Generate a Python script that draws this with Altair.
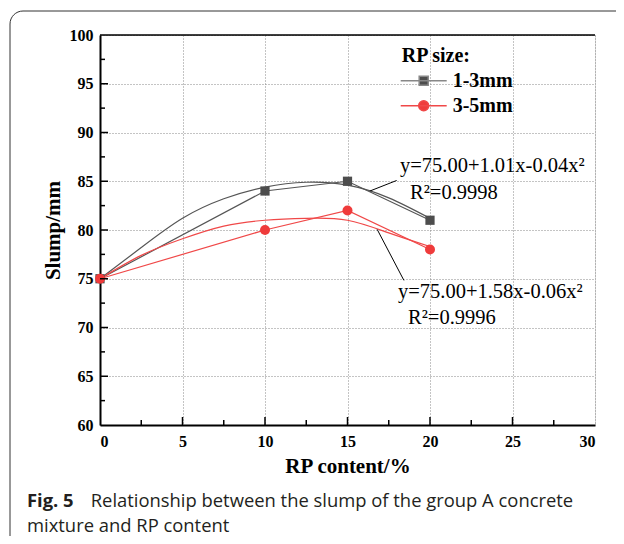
import altair as alt
import pandas as pd

# ---------------- data ----------------
rp_content = [0, 10, 15, 20]
slump_1_3 = [75, 84, 85, 81]
slump_3_5 = [75, 80, 82, 78]
series_names = ["1-3mm", "3-5mm"]

fit_x = [0, 2.5, 5, 7.5, 10, 12.5, 15, 17.5, 20]
fit_1_3 = [75, 78.2, 81.2, 83.2, 84.4, 84.9, 84.6, 83.3, 81.2]
fit_3_5 = [75, 77.4, 79.1, 80.4, 81.0, 81.2, 81.0, 79.7, 78.3]

eq_1_3 = "y=75.00+1.01x-0.04x²"
r2_1_3 = "R²=0.9998"
eq_3_5 = "y=75.00+1.58x-0.06x²"
r2_3_5 = "R²=0.9996"

x_ticks = [0, 5, 10, 15, 20, 25, 30]
y_ticks = [60, 65, 70, 75, 80, 85, 90, 95, 100]
x_minor = [2.5, 7.5, 12.5, 17.5, 22.5, 27.5]
y_minor = [62.5, 67.5, 72.5, 77.5, 82.5, 87.5, 92.5, 97.5]

caption_bold = "Fig. 5"
caption_1 = "Relationship between the slump of the group A concrete"
caption_2 = "mixture and RP content"

# ---------------- tables ----------------
pts = pd.DataFrame({
    "x": rp_content * 2,
    "y": slump_1_3 + slump_3_5,
    "series": [series_names[0]] * 4 + [series_names[1]] * 4,
})
fit = pd.DataFrame({
    "x": fit_x * 2,
    "y": fit_1_3 + fit_3_5,
    "series": [series_names[0]] * len(fit_x) + [series_names[1]] * len(fit_x),
})

W, H = 495, 390
SERIF = "Liberation Serif"
SANS = "Open Sans"
COLORS = ["#4d4d4d", "#ef3b3b"]
LINE_COLORS = ["#555555", "#f04848"]
LEG_LINE_COLORS = ["#888888", "#f04848"]
LEG_PATHS = [
    "M-4.6,0H4.6M-0.9,-0.9H0.9V0.9H-0.9Z",
    "M-4.6,0H4.6M-1,0A1,1 0 1,0 1,0A1,1 0 1,0 -1,0Z",
]

xs = alt.Scale(domain=[0, 30], nice=False, zero=False)
ys = alt.Scale(domain=[60, 100], nice=False, zero=False)

X = alt.X("x:Q", scale=xs, axis=alt.Axis(
    values=x_ticks, title="RP content/%", grid=True, gridDash=[1, 2], gridColor="#888",
    ticks=False, domainColor="black", domainWidth=2, labelFont=SERIF, labelFontSize=16,
    labelFontWeight="bold", labelColor="black", labelPadding=8, titleFont=SERIF,
    titleFontSize=21, titleFontWeight="bold", titleColor="black", titlePadding=6))
Y = alt.Y("y:Q", scale=ys, axis=alt.Axis(
    values=y_ticks, title="Slump/mm", grid=True, gridDash=[1, 2], gridColor="#888",
    ticks=False, domainColor="black", domainWidth=2, labelFont=SERIF, labelFontSize=16,
    labelFontWeight="bold", labelColor="black", labelPadding=7, titleFont=SERIF,
    titleFontSize=21, titleFontWeight="bold", titleColor="black", titlePadding=6))

one = pd.DataFrame({"a": [0]})

border = alt.Chart(one).mark_rect(
    fillOpacity=0, stroke="#333", strokeWidth=1, cornerRadius=13, clip=False
).encode(x=alt.value(-90), x2=alt.value(720), y=alt.value(-24), y2=alt.value(720))

top_frame = alt.Chart(one).mark_rule(color="black", strokeWidth=1.5).encode(
    x=alt.value(0), x2=alt.value(W), y=alt.value(0))

def xtick(vals, length):
    return alt.Chart(pd.DataFrame({"v": vals})).mark_rule(color="black", strokeWidth=1.5).encode(
        x=alt.X("v:Q", scale=xs), y=alt.value(H), y2=alt.value(H - length))

def ytick(vals, length):
    return alt.Chart(pd.DataFrame({"v": vals})).mark_rule(color="black", strokeWidth=1.5).encode(
        y=alt.Y("v:Q", scale=ys), x=alt.value(0), x2=alt.value(length))

ticks = [xtick(x_ticks[1:-1], 8), xtick(x_minor, 5), ytick(y_ticks[1:-1], 8), ytick(y_minor, 5)]

series_layers = []
for i, name in enumerate(series_names):
    f = alt.datum.series == name
    series_layers.append(alt.Chart(fit).transform_filter(f).mark_line(
        strokeWidth=1.2, interpolate="natural", color=LINE_COLORS[i]).encode(x=X, y=Y))
    series_layers.append(alt.Chart(pts).transform_filter(f).mark_line(
        strokeWidth=1.2, color=LINE_COLORS[i]).encode(x=X, y=Y))
series_layers.append(alt.Chart(pts).transform_filter(alt.datum.series == series_names[0]).mark_square(
    size=85, opacity=1, color=COLORS[0]).encode(x=X, y=Y))
series_layers.append(alt.Chart(pts).transform_filter(alt.datum.series == series_names[1]).mark_circle(
    size=100, opacity=1, color=COLORS[1]).encode(x=X, y=Y))

legend = alt.Legend(
    title="RP size:", orient="none", legendX=301.7, legendY=10.7, padding=0,
    titleFont=SERIF, titleFontSize=20, titleFontWeight="bold", titleColor="black", titlePadding=5,
    labelFont=SERIF, labelFontSize=20, labelFontWeight="bold", labelColor="black",
    labelOffset=19, symbolOffset=12, rowPadding=5, symbolSize=100, symbolStrokeWidth=1.5,
    symbolOpacity=1,
)

# invisible layer whose only job is to carry the legend (line + marker symbols);
# fill, stroke and shape share one domain so Vega-Lite merges them into one legend
legend_layer = alt.Chart(pts).mark_point(filled=True, opacity=0).encode(
    x=X, y=Y,
    fill=alt.Fill("series:N", scale=alt.Scale(domain=series_names, range=COLORS), legend=legend),
    stroke=alt.Stroke("series:N", scale=alt.Scale(domain=series_names, range=LEG_LINE_COLORS), legend=legend),
    shape=alt.Shape("series:N", scale=alt.Scale(domain=series_names, range=LEG_PATHS), legend=legend),
)

def leader(x1, y1, x2, y2):
    return alt.Chart(one).mark_rule(color="black", strokeWidth=1).encode(
        x=alt.datum(x1, scale=xs), y=alt.datum(y1, scale=ys),
        x2=alt.datum(x2), y2=alt.datum(y2))

def label(txt, x, y):
    return alt.Chart(one).mark_text(
        text=txt, align="left", baseline="alphabetic", font=SERIF, fontSize=20.5, color="black"
    ).encode(x=alt.datum(x, scale=xs), y=alt.datum(y, scale=ys))

annots = [
    leader(16.36, 84.0, 17.98, 85.08),
    leader(16.8, 80.06, 18.42, 74.83),
    label(eq_1_3, 18.18, 85.97),
    label(r2_1_3, 18.79, 83.2),
    label(eq_3_5, 18.06, 73.05),
    label(r2_3_5, 18.67, 70.4),
]

def cap(txt, x, y, weight):
    return alt.Chart(one).mark_text(
        text=txt, align="left", baseline="alphabetic", font=SANS, fontSize=18.4,
        fontWeight=weight, color="#231f20"
    ).encode(x=alt.value(x), y=alt.value(y))

captions = [
    cap(caption_bold, -73, 471.7, "bold"),
    cap(caption_1, -9.3, 471.7, "normal"),
    cap(caption_2, -73, 496.7, "normal"),
]

chart = alt.layer(
    border, *series_layers, *ticks, top_frame, legend_layer, *annots, *captions
).properties(
    width=W, height=H,
    autosize=alt.AutoSizeParams(type="none"),
    padding={"left": 92, "top": 27, "right": 21, "bottom": 111},
).configure_view(stroke="#888", strokeWidth=1).configure(background="white")

chart.save("out.html", embed_options={"renderer": "svg", "actions": False})
